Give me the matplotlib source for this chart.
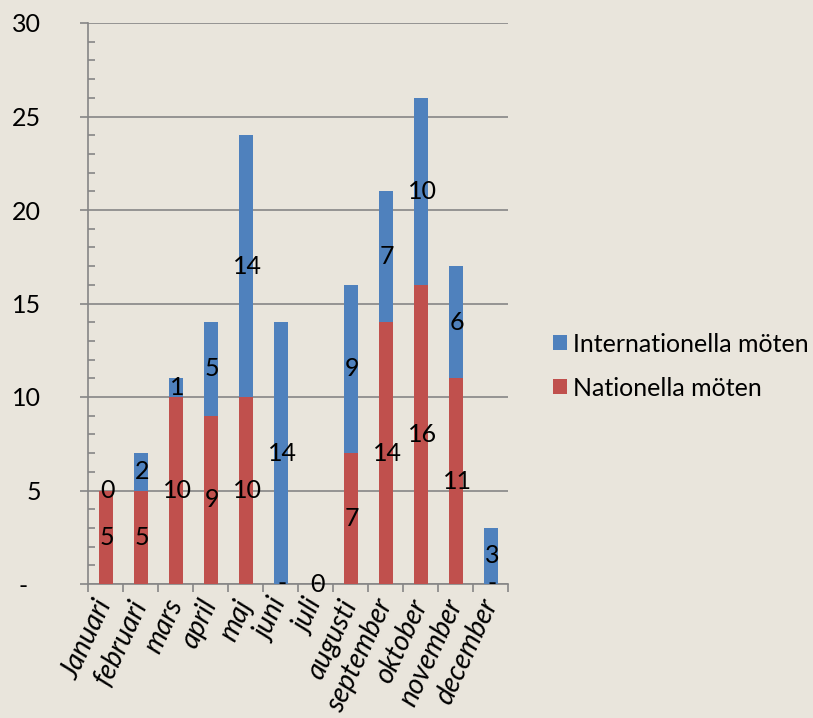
import numpy as np
import matplotlib
matplotlib.use('Agg')
import matplotlib.pyplot as plt
from matplotlib.ticker import MultipleLocator, FixedLocator

months = ['Januari', 'februari', 'mars', 'april', 'maj', 'juni', 'juli',
          'augusti', 'september', 'oktober', 'november', 'december']
nationella = [5, 5, 10, 9, 10, 0, 0, 7, 14, 16, 11, 0]
internationella = [0, 2, 1, 5, 14, 14, 0, 9, 7, 10, 6, 3]

bg = '#E9E5DC'
blue = '#4F81BD'
red = '#C0504D'
grey = '#868686'
fs = 18

plt.rcParams['font.family'] = ['Lato', 'DejaVu Sans']

fig = plt.figure(figsize=(8.13, 7.18), dpi=100, facecolor=bg)
ax = fig.add_axes([88/813, 1-584/718, 420/813, 561/718])
ax.set_facecolor(bg)

x = np.arange(len(months))
ax.bar(x, nationella, width=0.4, color=red, label='Nationella möten', zorder=3)
ax.bar(x, internationella, width=0.4, bottom=nationella, color=blue,
       label='Internationella möten', zorder=3)

# data labels, zeros in the national series shown as "-"
for i in x:
    n, m = nationella[i], internationella[i]
    ax.text(i + 0.05, n/2, str(n) if n else '-', ha='center', va='center',
            fontsize=fs, zorder=4)
    ax.text(i + 0.05, n + m/2, str(m), ha='center', va='center',
            fontsize=fs, zorder=4)

ax.set_xlim(-0.5, 11.5)
ax.set_ylim(0, 30)
ax.yaxis.set_minor_locator(MultipleLocator(1))
ax.set_yticks([0, 5, 10, 15, 20, 25, 30])
ax.set_yticklabels(['-  ', '5', '10', '15', '20', '25', '30'], fontsize=fs)
ax.grid(axis='y', color=grey, linewidth=1.2, zorder=1)
ax.tick_params(axis='y', which='major', direction='out', length=6, width=1.2,
               color=grey, pad=28)
ax.tick_params(axis='y', which='minor', direction='in', length=5, width=1.2,
               color=grey)

ax.xaxis.set_major_locator(FixedLocator(np.arange(-0.5, 12, 1)))
ax.set_xticklabels([])
ax.tick_params(axis='x', which='major', direction='out', length=6, width=1.2,
               color=grey)
ax.tick_params(axis='x', which='minor', length=0, pad=12)
ax.set_xticks(x, minor=True)
ax.set_xticklabels(months, minor=True, rotation=65, ha='right', va='center',
                   rotation_mode='anchor', fontsize=20, style='italic')

for s in ['top', 'right']:
    ax.spines[s].set_visible(False)
for s in ['left', 'bottom']:
    ax.spines[s].set_color(grey)
    ax.spines[s].set_linewidth(1.2)

h, l = ax.get_legend_handles_labels()
fig.legend(h[::-1], l[::-1], loc='center left', bbox_to_anchor=(0.652, 0.49),
           frameon=False, fontsize=fs, handlelength=0.56, handleheight=0.56,
           handletextpad=0.25, labelspacing=0.84)

fig.savefig('out.png', dpi=100, facecolor=bg)
